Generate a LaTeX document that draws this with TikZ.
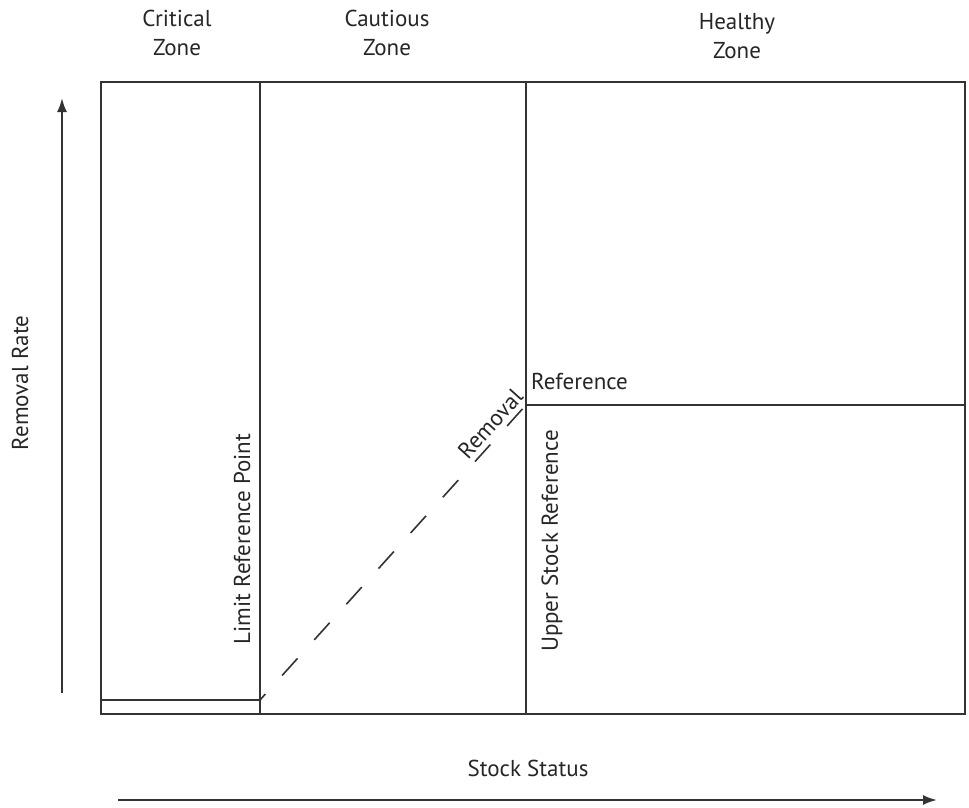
\documentclass[tikz,border=0pt]{standalone}
\usepackage{fontspec}
\setmainfont{PT Sans}
\usetikzlibrary{positioning,arrows.meta}
\definecolor{inkgray}{HTML}{333333}
\definecolor{textgray}{HTML}{262626}
\tikzset{
  frame/.style={draw=inkgray, line width=1.6pt},
  axisarrow/.style={draw=inkgray, line width=2pt, -{Latex[length=14pt,width=10pt]}},
  zonelabel/.style={text=textgray, font=\fontsize{23}{29}\selectfont, inner sep=0pt, align=center},
}
\begin{document}
\begin{tikzpicture}[x=1pt,y=-1pt]
	\useasboundingbox (0,0) rectangle (969,808);
	% zone box
	\coordinate (boxTL) at (101,82);
	\coordinate (boxBR) at (965,714);
	\coordinate (limitTop) at (260,82);
	\coordinate (limitBot) at (260,714);
	\coordinate (upperTop) at (526,82);
	\coordinate (upperBot) at (526,714);
	\coordinate (refLeft) at (526,405);
	\coordinate (refRight) at (965,405);
	\coordinate (floorLeft) at (101,700);
	\coordinate (floorRight) at (260,700);
	\coordinate (rateFoot) at (62,693);
	\coordinate (rateHead) at (62,98);
	\coordinate (stockFoot) at (118,800);
	\coordinate (stockHead) at (937,800);
	\draw [frame] (boxTL) rectangle (boxBR);
	\draw [frame] (limitTop) -- (limitBot);
	\draw [frame] (upperTop) -- (upperBot);
	\draw [frame] (refLeft) -- (refRight);
	\draw [frame] (floorLeft) -- (floorRight);
	\draw [frame, dash pattern=on 23pt off 25pt, dash phase=15pt] (floorRight) -- node (removal) [zonelabel, sloped, above=5pt, pos=0.905] {Removal} (refLeft);
	% axes
	\draw [axisarrow] (rateFoot) -- (rateHead);
	\draw [axisarrow] (stockFoot) -- (stockHead);
	% labels
	\node (critical) [zonelabel] at (177,33) {Critical\\Zone};
	\node (cautious) [zonelabel] at (387,33) {Cautious\\Zone};
	\node (healthy) [zonelabel] at (737,36) {Healthy\\Zone};
	\node (rate) [zonelabel, rotate=90] at (20,383) {Removal Rate};
	\node (stock) [zonelabel] at (528,768) {Stock Status};
	\node (limit) [zonelabel, rotate=90] at (242,539) {Limit Reference Point};
	\node (upper) [zonelabel, rotate=90] at (552,541) {Upper Stock Reference};
	\node (reference) [zonelabel, anchor=south west] at (531,390) {Reference};
\end{tikzpicture}
\end{document}
